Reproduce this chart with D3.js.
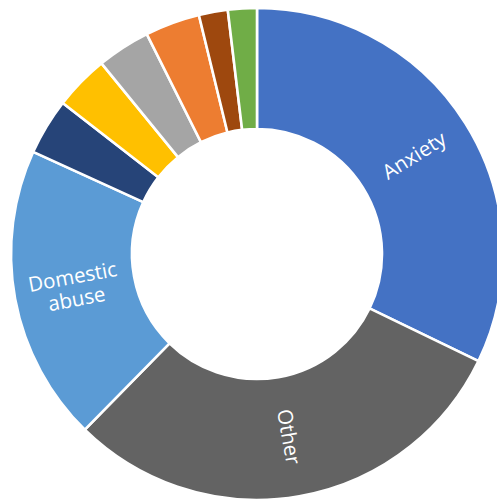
<!DOCTYPE html>
<html>
<head>
<meta charset="utf-8">
<script src="https://cdn.jsdelivr.net/npm/d3@7/dist/d3.min.js"></script>
<style>
  html, body { margin: 0; padding: 0; background: #ffffff; }
  svg { display: block; }
</style>
</head>
<body>
<svg id="chart" width="497" height="503"></svg>
<script>
// Slice data, in clockwise order from 12 o'clock
const categories = ["Anxiety", "Other", "Domestic abuse", "Category 4", "Category 5", "Category 6", "Category 7", "Category 8", "Category 9"];
const values = [32.2, 30.2, 19.5, 3.7, 3.6, 3.5, 3.6, 1.9, 1.9];
const sliceLabels = [["Anxiety"], ["Other"], ["Domestic", "abuse"], [], [], [], [], [], []];
const colors = ["#4472C4", "#636363", "#5B9BD5", "#264478", "#FFC000", "#A5A5A5", "#ED7D31", "#9E480E", "#70AD47"];

const data = categories.map((c, i) => ({ name: c, value: values[i], label: sliceLabels[i], color: colors[i] }));

const svg = d3.select("#chart");
const cx = 257, cy = 254;
const outerR = 246, innerR = 125;

const g = svg.append("g").attr("transform", `translate(${cx},${cy})`);

const pie = d3.pie().sort(null).value(d => d.value);
const arc = d3.arc().innerRadius(innerR).outerRadius(outerR);
const arcs = pie(data);

g.selectAll("path.slice")
  .data(arcs)
  .join("path")
  .attr("class", "slice")
  .attr("d", arc)
  .attr("fill", d => d.data.color)
  .attr("stroke", "#ffffff")
  .attr("stroke-width", 2.6)
  .attr("stroke-linejoin", "miter");

// Labels run along the radius through the middle of the ring
const labelR = (innerR + outerR) / 2;
const fontSize = 20.5;
const lineH = fontSize * 1.1;

const labels = g.selectAll("g.label")
  .data(arcs.filter(d => d.data.label.length))
  .join("g")
  .attr("class", "label")
  .attr("transform", d => {
    const a = (d.startAngle + d.endAngle) / 2;
    const x = labelR * Math.sin(a);
    const y = -labelR * Math.cos(a);
    let rot = a * 180 / Math.PI - 90;
    if (rot > 90) rot -= 180;
    return `translate(${x},${y}) rotate(${rot})`;
  });

labels.each(function(d) {
  const lines = d.data.label;
  const t = d3.select(this).append("text")
    .attr("text-anchor", "middle")
    .attr("fill", "#ffffff")
    .attr("font-family", "'Open Sans', 'DejaVu Sans', sans-serif")
    .attr("font-size", fontSize);
  lines.forEach((ln, i) => {
    t.append("tspan")
      .attr("x", 0)
      .attr("y", (i - (lines.length - 1) / 2) * lineH)
      .attr("dy", "0.35em")
      .text(ln);
  });
});
</script>
</body>
</html>
